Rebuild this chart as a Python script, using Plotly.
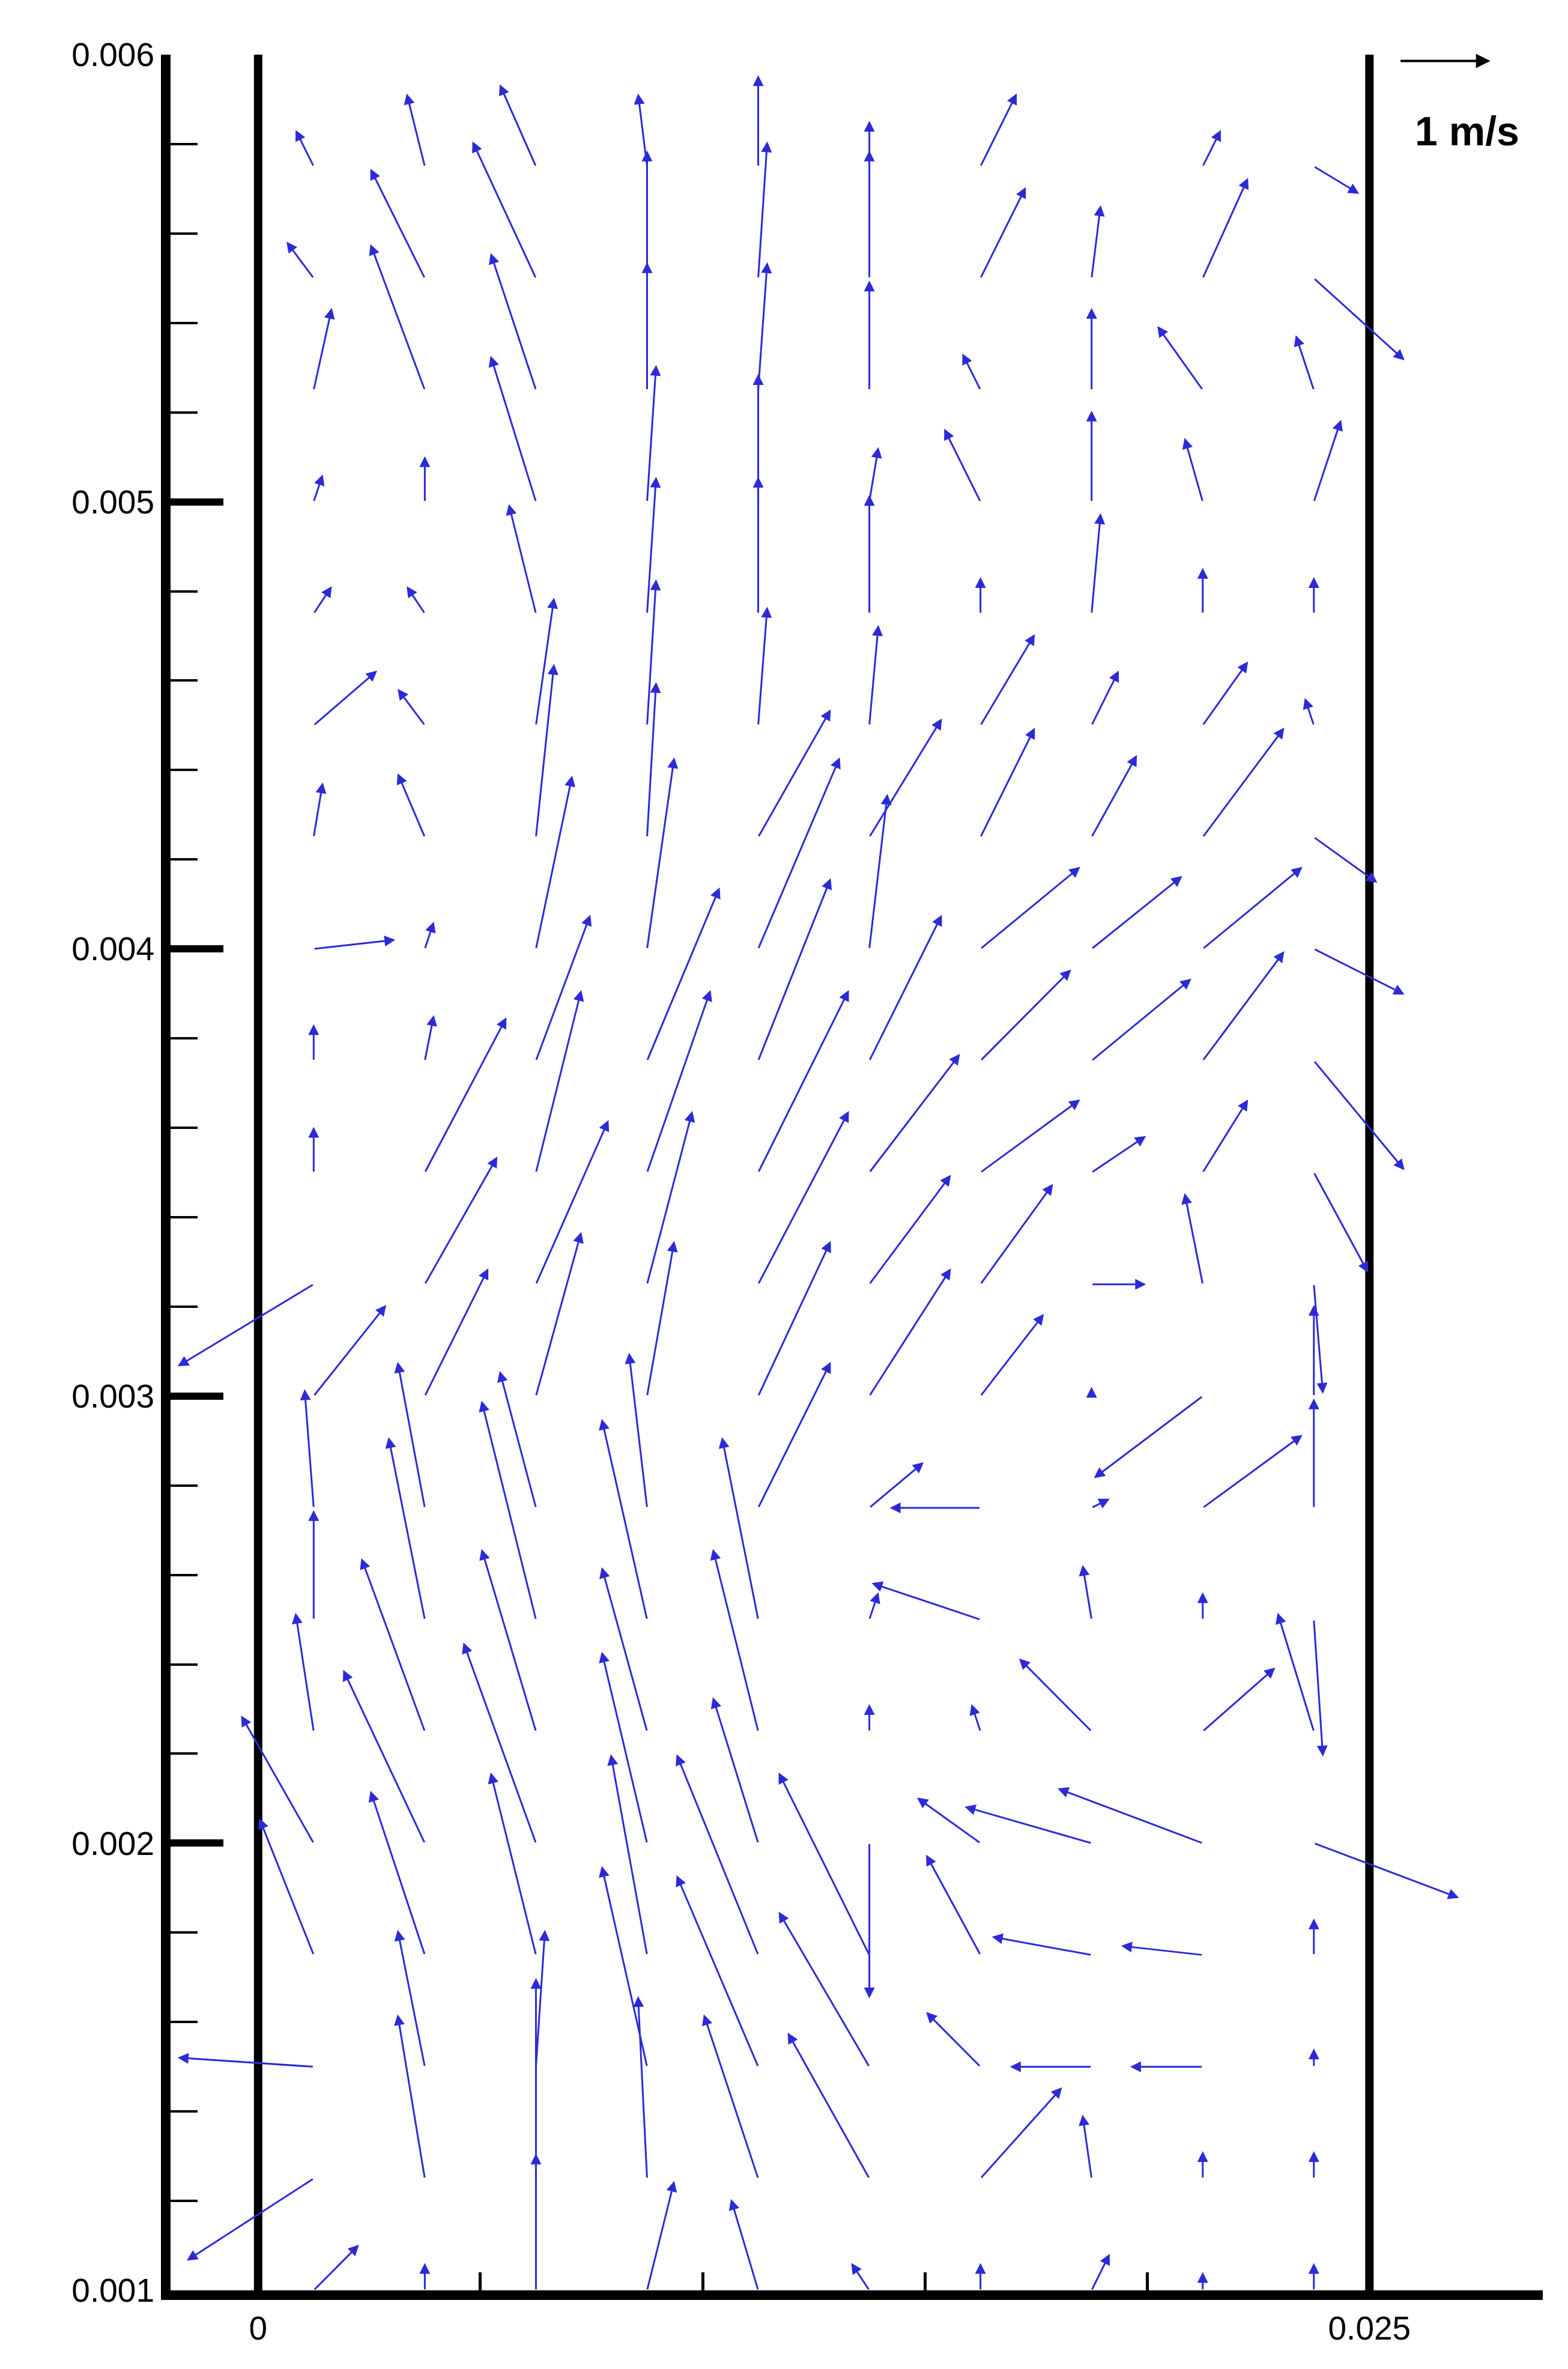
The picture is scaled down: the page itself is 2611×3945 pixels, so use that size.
import plotly.graph_objects as go

# grid of vector tails (mm)
x_cols_mm = [1.25, 3.75, 6.25, 8.75, 11.25, 13.75, 16.25, 18.75, 21.25, 23.75]
y_rows_mm = [1.0, 1.25, 1.5, 1.75, 2.0, 2.25, 2.5, 2.75, 3.0, 3.25, 3.5, 3.75,
             4.0, 4.25, 4.5, 4.75, 5.0, 5.25, 5.5, 5.75]
# velocity components (m/s), one row per y level
u_rows = [
    [0.5, 0, 0, 0.3, -0.3, -0.2, 0, 0.2, 0, 0],
    [-1.4, -0.3, 0, -0.1, -0.6, -0.9, 0.9, -0.1, 0, 0],
    [-1.5, -0.3, 0.1, -0.5, -0.9, -1.0, -0.6, -0.9, -0.8, 0],
    [-0.6, -0.6, -0.5, -0.4, -0.9, -1.0, -0.6, -1.1, -0.9, 0],
    [-0.8, -0.9, -0.8, -0.5, -0.5, 0, -0.7, -1.4, -1.6, 1.6],
    [-0.2, -0.7, -0.6, -0.5, -0.5, 0, -0.1, -0.8, 0.8, -0.4],
    [0, -0.4, -0.6, -0.5, -0.4, 0.1, -1.2, -0.1, 0, 0.1],
    [-0.1, -0.3, -0.4, -0.2, 0.8, 0.6, -1.0, 0.2, 1.1, 0],
    [0.8, 0.7, 0.5, 0.3, 0.8, 0.9, 0.7, 0, -1.2, 0],
    [-1.5, 0.8, 0.8, 0.5, 1.0, 0.9, 0.8, 0.6, -0.2, 0.1],
    [0, 0.9, 0.5, 0.7, 1.0, 1.0, 1.1, 0.6, 0.5, 0.6],
    [0, 0.1, 0.6, 0.8, 0.8, 0.8, 1.0, 1.1, 0.9, 1.0],
    [0.9, 0.1, 0.4, 0.3, 0.9, 0.2, 1.1, 1.0, 1.1, 1.0],
    [0.1, -0.3, 0.2, 0.1, 0.8, 0.8, 0.6, 0.5, 0.9, 0.7],
    [0.7, -0.3, 0.2, 0.1, 0.1, 0.1, 0.6, 0.3, 0.5, -0.1],
    [0.2, -0.2, -0.3, 0.1, 0, 0, 0, 0.1, 0, 0],
    [0.1, 0, -0.5, 0.1, 0, 0.1, -0.4, 0, -0.2, 0.3],
    [0.2, -0.6, -0.5, 0, 0.1, 0, -0.2, 0, -0.5, -0.2],
    [-0.3, -0.6, -0.7, 0, 0.1, 0, 0.5, 0.1, 0.5, 1.0],
    [-0.2, -0.2, -0.4, -0.1, 0, 0, 0.4, 0, 0.2, 0.5],
]
v_rows = [
    [0.5, 0.3, 1.5, 1.2, 1.0, 0.3, 0.3, 0.4, 0.2, 0.3],
    [-0.9, 1.8, 2.2, 2.0, 1.8, 1.6, 1.0, 0.7, 0.3, 0.3],
    [0.1, 1.5, 1.5, 2.2, 2.1, 1.7, 0.6, 0, 0, 0.2],
    [1.5, 1.8, 2.0, 2.2, 2.2, 2.0, 1.1, 0.2, 0.1, 0.4],
    [1.4, 1.9, 2.2, 2.1, 1.6, -1.7, 0.5, 0.4, 0.6, -0.6],
    [1.3, 1.9, 2.0, 1.8, 2.0, 0.3, 0.3, 0.8, 0.7, 1.3],
    [1.2, 2.0, 2.4, 2.2, 2.0, 0.3, 0.4, 0.6, 0.3, -1.5],
    [1.3, 1.6, 1.5, 1.7, 1.6, 0.5, 0, 0.1, 0.8, 1.2],
    [1.0, 1.4, 1.8, 1.7, 1.7, 1.4, 0.9, 0.1, -0.9, 1.0],
    [-0.9, 1.4, 1.8, 1.9, 1.9, 1.2, 1.1, 0, 1.0, -1.2],
    [0.5, 1.7, 2.0, 2.0, 2.0, 1.3, 0.8, 0.4, 0.8, -1.1],
    [0.4, 0.5, 1.6, 1.9, 2.0, 1.6, 1.0, 0.9, 1.2, -1.2],
    [0.1, 0.3, 1.9, 2.1, 2.1, 1.7, 0.9, 0.8, 0.9, -0.5],
    [0.6, 0.7, 1.9, 1.7, 1.4, 1.3, 1.2, 0.9, 1.2, -0.5],
    [0.6, 0.4, 1.4, 1.6, 1.3, 1.1, 1.0, 0.6, 0.7, 0.3],
    [0.3, 0.3, 1.2, 1.5, 1.5, 1.3, 0.4, 1.1, 0.5, 0.4],
    [0.3, 0.5, 1.6, 1.5, 1.4, 0.6, 0.8, 1.0, 0.7, 0.9],
    [0.9, 1.6, 1.5, 1.4, 1.4, 1.2, 0.4, 0.9, 0.7, 0.6],
    [0.4, 1.2, 1.5, 1.4, 1.5, 1.4, 1.0, 0.8, 1.1, -0.9],
    [0.4, 0.8, 0.9, 0.8, 1.0, 0.5, 0.8, 0, 0.4, -0.3],
]
ref_speed = 1.0  # m/s reference vector
SX = 0.00204   # metres in x per m/s on screen
SY = 0.000204  # metres in y per m/s on screen

BLUE = "#2b2bd6"
fig = go.Figure()
fig.add_trace(go.Scatter(x=[0], y=[0.003], mode="markers", marker=dict(opacity=0), showlegend=False, hoverinfo="skip"))

ann = []
for yi, ymm in enumerate(y_rows_mm):
    for xi, xmm in enumerate(x_cols_mm):
        u = u_rows[yi][xi]; v = v_rows[yi][xi]
        x0 = xmm / 1000; y0 = ymm / 1000
        ann.append(dict(x=x0 + u * SX, y=y0 + v * SY, ax=x0, ay=y0,
                        xref="x", yref="y", axref="x", ayref="y", text="",
                        showarrow=True, arrowhead=2, arrowsize=1.2, arrowwidth=3,
                        arrowcolor=BLUE))
# reference vector
ann.append(dict(x=0.02568 + ref_speed * SX, y=0.005986, ax=0.02568, ay=0.005986,
                xref="x", yref="y", axref="x", ayref="y", text="", showarrow=True,
                arrowhead=2, arrowsize=1.2, arrowwidth=4, arrowcolor="black"))
ann.append(dict(x=0.0272, y=0.00583, xref="x", yref="y", text="<b>1 m/s</b>",
                showarrow=False, font=dict(size=68, color="black", family="Liberation Sans")))

shapes = [dict(type="line", xref="x", yref="y", x0=xw, x1=xw, y0=0.001, y1=0.006,
               line=dict(color="black", width=14)) for xw in [0, 0.025]]

fig.update_layout(
    width=2611, height=3945, plot_bgcolor="white", paper_bgcolor="white",
    margin=dict(l=276, r=50, t=83, b=139), annotations=ann, shapes=shapes,
    font=dict(family="Liberation Sans", size=55, color="black"),
    xaxis=dict(range=[-0.00197, 0.0289], tickvals=[0, 0.025], ticktext=["0", "0.025"],
               showgrid=False, zeroline=False, showline=True, linecolor="black", linewidth=16,
               ticks="inside", ticklen=30, tickwidth=5, tickcolor="black",
               minor=dict(dtick=0.005, tick0=0, ticks="inside", ticklen=30, tickwidth=5, tickcolor="black")),
    yaxis=dict(range=[0.001, 0.006], dtick=0.001, tickformat=".3f",
               showgrid=False, zeroline=False, showline=True, linecolor="black", linewidth=16,
               ticks="inside", ticklen=88, tickwidth=12, tickcolor="black",
               minor=dict(dtick=0.0002, ticks="inside", ticklen=45, tickwidth=4, tickcolor="black")),
)
fig.write_html("out.html")
